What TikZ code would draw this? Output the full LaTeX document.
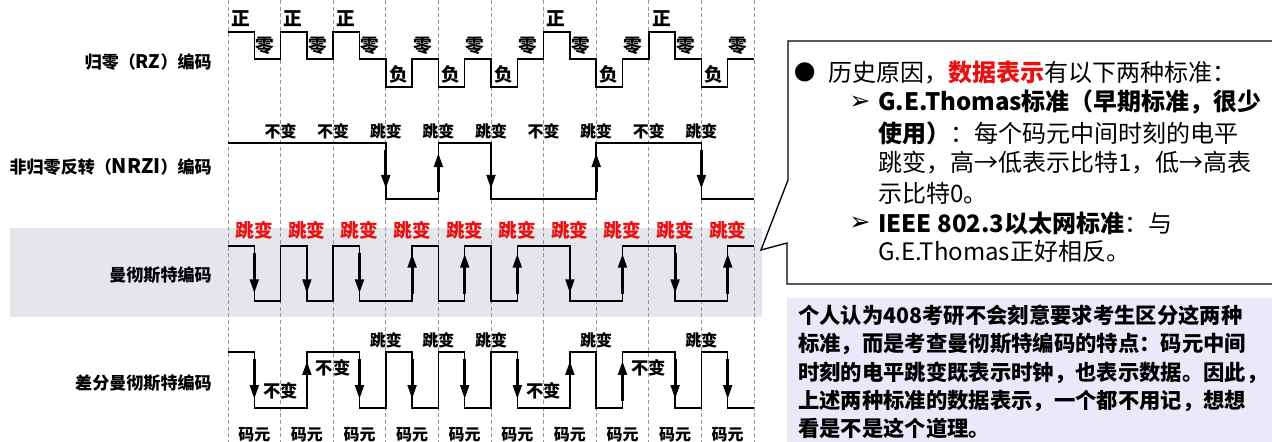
\documentclass[tikz,border=0pt]{standalone}
\usepackage{fontspec}
\setmainfont{Noto Sans CJK SC}
\newfontfamily\dingfont{DejaVu Sans}
\usepackage{tikz}
\usetikzlibrary{arrows.meta,positioning}
\definecolor{hired}{RGB}{232,16,16}
\definecolor{bandgray}{RGB}{229,230,235}
\definecolor{notebg}{RGB}{233,233,250}
\definecolor{gridgray}{RGB}{150,150,150}
\tikzset{
  px/.style={x=0.75pt,y=-0.75pt},
  bits/.style={shift={(228,0)},x=39.45pt},
  gridln/.style={gridgray,line width=0.6pt,dash pattern=on 3pt off 2pt},
  wave/.style={black,line width=1.1pt,line join=miter},
  bitarr/.style={-{Triangle[length=10.5pt,width=6.5pt]},line width=2.1pt},
  rowlbl/.style={anchor=east,inner sep=0pt,font=\bfseries\fontsize{12.8}{15}\selectfont},
  lvllbl/.style={inner sep=0pt,font=\bfseries\fontsize{14}{16}\selectfont},
  chglbl/.style={inner sep=0pt,font=\bfseries\fontsize{12}{14}\selectfont},
  redlbl/.style={inner sep=0pt,text=hired,font=\bfseries\fontsize{14}{16}\selectfont},
  callout/.style={draw=black,fill=white,line width=1pt,line join=miter},
  notetxt/.style={anchor=west,inner sep=0pt,font=\fontsize{18}{22}\selectfont},
  notemark/.style={inner sep=0pt,font=\dingfont\fontsize{19}{20}\selectfont},
  remtxt/.style={anchor=west,inner sep=0pt,font=\bfseries\fontsize{16}{20}\selectfont},
}

\begin{document}
\begin{tikzpicture}[px]
  \useasboundingbox (0,0) rectangle (1272,442);
  % band behind the Manchester row
  \fill[bandgray] (10,228) rectangle (762,317);

  % row titles
  \node[rowlbl] (lRZ) at (212,62) {归零（{\fontsize{14}{15}\selectfont RZ}）编码};
  \node[rowlbl] (lNRZI) at (212,167) {非归零反转（{\fontsize{15}{15}\selectfont NRZI}）编码};
  \node[rowlbl] (lMan) at (212,275) {曼彻斯特编码};
  \node[rowlbl] (lDMan) at (212,383) {差分曼彻斯特编码};

  \begin{scope}[bits]
    \foreach \k in {0,...,10}
      \draw[gridln] (\k,0) -- (\k,442);

    % RZ
    \draw[wave] (0,32) \foreach \v [count=\k from 0] in {32,32,32,87,87,87,32,87,32,87}
      { -- (\k,\v) -- ({\k+.5},\v) -- ({\k+.5},59) -- ({\k+1},59) };
    \foreach \k in {0,1,2,6,8}
      \node[lvllbl] (pos\k) at ({\k+.24},19) {正};
    \foreach \k in {3,4,5,7,9}
      \node[lvllbl] (neg\k) at ({\k+.24},74) {负};
    \foreach \k in {0,...,9}
      \node[lvllbl] (zer\k) at ({\k+.7},46) {零};

    % NRZI
    \draw[wave] (0,143) -- (3,143) -- (3,199) -- (4,199) -- (4,143) -- (5,143)
      -- (5,199) -- (7,199) -- (7,143) -- (9,143) -- (9,199) -- (10,199);
    \foreach \x/\a/\b in {3/143/199,4/199/143,5/143/199,7/199/143,9/143/199}
      \draw[bitarr] (\x,{\a+0.12*(\b-\a)}) -- (\x,{\a+0.82*(\b-\a)});
    \foreach \t [count=\k] in {不变,不变,跳变,跳变,跳变,不变,跳变,不变,跳变}
      \node[chglbl] (nz\k) at (\k,131) {\t};

    % Manchester
    \draw[wave] (0,246) \foreach \a/\b [count=\k from 0] in
      {246/301,246/301,246/301,301/246,301/246,301/246,246/301,301/246,246/301,301/246}
      { -- (\k,\a) -- ({\k+.5},\a) -- ({\k+.5},\b) -- ({\k+1},\b) };
    \foreach \a/\b [count=\k from 0] in
      {246/301,246/301,246/301,301/246,301/246,301/246,246/301,301/246,246/301,301/246}
      \draw[bitarr] ({\k+.5},{\a+0.12*(\b-\a)}) -- ({\k+.5},{\a+0.86*(\b-\a)});
    \foreach \k in {0,...,9}
      \node[redlbl] (mj\k) at ({\k+.5},230) {跳变};

    % differential Manchester
    \draw[wave] (0,352) \foreach \a/\b [count=\k from 0] in
      {352/408,408/352,352/408,352/408,352/408,352/408,408/352,408/352,352/408,352/408}
      { -- (\k,\a) -- ({\k+.5},\a) -- ({\k+.5},\b) -- ({\k+1},\b) };
    \foreach \a/\b [count=\k from 0] in
      {352/408,408/352,352/408,352/408,352/408,352/408,408/352,408/352,352/408,352/408}
      \draw[bitarr] ({\k+.5},{\a+0.12*(\b-\a)}) -- ({\k+.5},{\a+0.84*(\b-\a)});
    \foreach \k in {3,4,5,7,9}
      \node[chglbl] (dj\k) at (\k,340) {跳变};
    \foreach \x/\y in {1/391,2/368,6/391,8/368}
      \node[chglbl,font=\bfseries\fontsize{13}{15}\selectfont] (db\x) at (\x,\y) {不变};
    \foreach \k in {0,...,9}
      \node[chglbl] (sym\k) at ({\k+.5},435) {码元};
  \end{scope}

  % callout with the two standards
  \draw[callout] (788,41) -- (1280,41) -- (1280,284) -- (787,284) -- (787,243)
    -- (761,250) -- (788,180) -- cycle;
  \node[inner sep=0pt,font=\fontsize{16}{18}\selectfont] (bul) at (805,72) {●};
  \node[notetxt] (t1) at (828,73) {历史原因，{\bfseries\color{hired}数据表示}有以下两种标准：};
  \node[notemark] (m1) at (860,103) {➢};
  \node[notetxt] (t2) at (878,102) {\bfseries G.E.Thomas标准（早期标准，很少};
  \node[notetxt] (t3) at (878,133) {{\bfseries 使用）}：每个码元中间时刻的电平};
  \node[notetxt] (t4) at (878,163) {跳变，高→低表示比特1，低→高表};
  \node[notetxt] (t5) at (878,193) {示比特0。};
  \node[notemark] (m2) at (860,224) {➢};
  \node[notetxt] (t6) at (878,223) {{\bfseries IEEE 802.3以太网标准}：与};
  \node[notetxt] (t7) at (878,251) {G.E.Thomas正好相反。};

  % remark
  \fill[notebg] (787,298) rectangle (1272,442);
  \node[remtxt] (r1) at (798,315) {个人认为408考研不会刻意要求考生区分这两种};
  \node[remtxt] (r2) at (798,344) {标准，而是考查曼彻斯特编码的特点：码元中间};
  \node[remtxt] (r3) at (798,373) {时刻的电平跳变既表示时钟，也表示数据。因此，};
  \node[remtxt] (r4) at (798,401) {上述两种标准的数据表示，一个都不用记，想想};
  \node[remtxt] (r5) at (798,428) {看是不是这个道理。};
\end{tikzpicture}
\end{document}
